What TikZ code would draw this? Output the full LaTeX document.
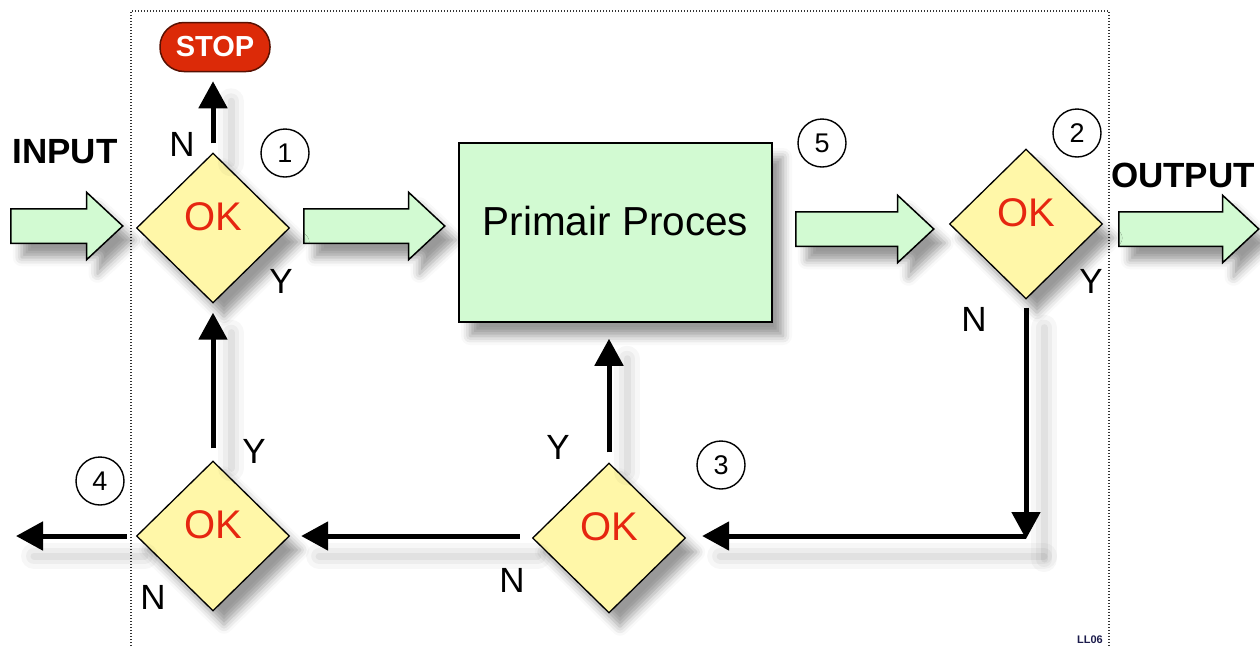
\documentclass[tikz,border=0pt]{standalone}
\usepackage{fontspec}
\setmainfont{Liberation Sans}
\usetikzlibrary{shapes.geometric,shapes.arrows,arrows.meta,shadows.blur}
\definecolor{okyellow}{HTML}{FFF7A8}
\definecolor{procgreen}{HTML}{D2FAD2}
\definecolor{okred}{HTML}{E62610}
\definecolor{stopred}{HTML}{DC2A08}
\definecolor{llblue}{HTML}{1C1C4C}

\begin{document}
\begin{tikzpicture}[x=1pt,y=-1pt,
  shade/.style={blur shadow={shadow xshift=11pt,shadow yshift=-14pt,shadow blur radius=9pt,shadow opacity=40}},
  lshade/.style={preaction={draw=black,-,line cap=round,line width=26pt,opacity=0.03,transform canvas={shift={(18pt,-20pt)}}},
                 preaction={draw=black,-,line cap=round,line width=16pt,opacity=0.04,transform canvas={shift={(18pt,-20pt)}}},
                 preaction={draw=black,-,line cap=round,line width=7pt,opacity=0.05,transform canvas={shift={(18pt,-20pt)}}}},
  ok/.style={diamond,draw,line width=1.3pt,fill=okyellow,minimum width=153pt,minimum height=150pt,inner sep=0pt,
             text=okred,font=\fontsize{40}{40}\selectfont,text height=29pt,text depth=24pt,shade},
  proces/.style={rectangle,draw,line width=1.5pt,fill=procgreen,minimum width=313pt,minimum height=179pt,
             font=\fontsize{40.5}{40.5}\selectfont,text height=29pt,text depth=24pt,shade},
  fat/.style={single arrow,draw,line width=1.5pt,fill=procgreen,inner xsep=0pt,inner ysep=16.5pt,anchor=tail,
             single arrow head extend=16.5pt,single arrow tip angle=86,shade},
  stopbox/.style={rectangle,rounded corners=24pt,draw=black!60!stopred,line width=1.5pt,fill=stopred,
             minimum width=110pt,minimum height=49pt,text=white,font=\fontsize{29}{29}\selectfont\bfseries},
  flow/.style={line width=5pt,-{Triangle[width=28pt,length=27pt]},lshade},
  num/.style={circle,draw,line width=1.4pt,minimum size=48pt,inner sep=0pt,font=\fontsize{27}{27}\selectfont},
  yn/.style={font=\fontsize{35}{35}\selectfont,inner sep=0pt},
  io/.style={font=\fontsize{35}{35}\selectfont\bfseries,inner sep=0pt},
  frame/.style={line width=1.3pt,black!80,dash pattern=on 1.3pt off 1.7pt}]
  \useasboundingbox (0,0) rectangle (1260,646);
  \draw[frame] (131,652)--(131,11)--(1109,11)--(1109,652);

  \node[fat,minimum height=112pt] (fin) at (10,226) {};
  \node[fat,minimum height=141pt] (fmid) at (303,226) {};
  \node[fat,minimum height=138pt] (fright) at (795,229) {};
  \node[fat,minimum height=140pt] (fout) at (1118,229) {};

  \node[ok] (okA) at (213,228) {OK};
  \node[ok] (okB) at (1026,224) {OK};
  \node[ok] (okC) at (609,538) {OK};
  \node[ok] (okD) at (213,536) {OK};
  \node[proces] (proces) at (615.5,232.5) {Primair Proces};
  \node[stopbox] (stop) at (215,47) {STOP};

  \coordinate (corner) at (okB.south |- okD.east);
  \coordinate (exit) at (16,536);

  \draw[flow,shorten <=9pt,shorten >=9pt] (okA.north) -- (okA.north |- stop.south);
  \draw[flow,shorten <=12pt,shorten >=9pt] (okD.north) -- (okA.south);
  \draw[flow,shorten <=10pt,shorten >=16pt] (okC.north) -- (okC.north |- proces.south);
  \draw[flow,shorten <=8pt,shorten >=-3pt] (okB.south) -- (corner);
  \draw[flow,shorten >=16pt] (corner) -- (corner -| okC.east);
  \draw[flow,shorten <=12pt,shorten >=11pt] (okC.west |- okD.east) -- (okD.east);
  \draw[flow,shorten <=9pt] (okD.west) -- (exit);

  \foreach \n/\x/\y in {1/285/153,2/1077/133,3/721/465,4/100/481,5/822/143}
    \node[num] (num\n) at (\x,\y) {\n};
  \foreach \t/\x/\y [count=\i] in {N/182/144,Y/281/281,Y/1091/281,N/974/319,Y/558/447,N/512/580,Y/254/451,N/153/597}
    \node[yn] (yn\i) at (\x,\y) {\t};

  \node[io] (input) at (65,152) {INPUT};
  \node[io] (output) at (1183,175) {OUTPUT};
  \node[font=\fontsize{11}{11}\selectfont\bfseries,text=llblue,inner sep=0pt] (ll) at (1090,640) {LL06};
\end{tikzpicture}
\end{document}
